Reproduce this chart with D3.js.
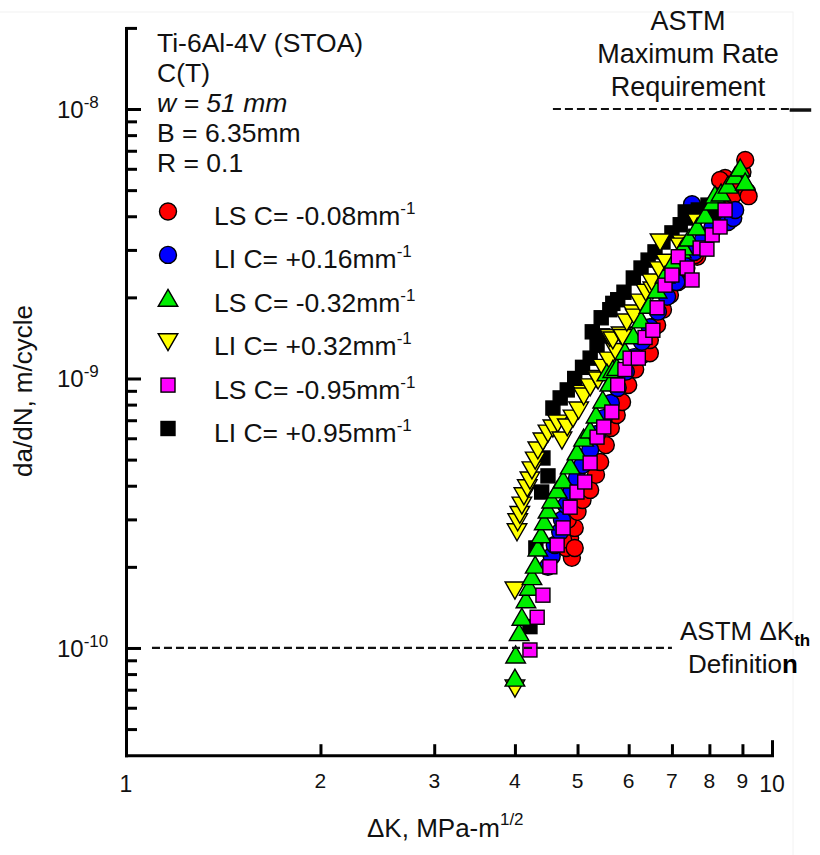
<!DOCTYPE html>
<html><head><meta charset="utf-8">
<script src="https://cdn.jsdelivr.net/npm/d3@7"></script>
<style>
body{margin:0;background:#fff}
svg text{font-family:"Liberation Sans",Arial,sans-serif;fill:#111}
</style>
</head><body>
<svg id="chart" width="820" height="855"></svg>
<script>
// ---------- data (ΔK in MPa·m^1/2, da/dN in m/cycle) ----------
const LS_m008 = [[4.90,2.16e-10],[4.80,2.35e-10],[4.87,2.56e-10],[4.95,2.79e-10],[4.83,2.99e-10],[4.75,2.52e-10],[4.95,2.35e-10],
  [5.00,3.20e-10],[5.09,3.54e-10],[5.23,3.86e-10],[5.34,4.39e-10],[5.42,4.90e-10],[5.53,5.66e-10],[5.63,6.55e-10],[5.75,7.32e-10],
  [5.86,8.18e-10],[5.99,9.46e-10],[6.14,1.08e-9],[6.29,1.22e-9],[6.47,1.24e-9],[6.47,1.39e-9],[6.64,1.58e-9],[6.78,1.80e-9],[6.95,2.04e-9],
  [7.16,2.28e-9],[7.37,2.57e-9],[7.66,2.83e-9],[7.60,2.87e-9],[7.82,3.18e-9],[8.08,3.56e-9],[8.31,3.94e-9],[8.52,4.40e-9],[8.71,4.80e-9],
  [8.93,5.31e-9],[9.15,4.93e-9],[9.00,5.84e-9],[9.09,6.47e-9],[8.46,5.55e-9],[8.31,5.45e-9],[9.20,4.75e-9]];
const LI_p016 = [[4.50,2.00e-10],[4.56,2.19e-10],[4.61,2.41e-10],[4.70,2.70e-10],[4.73,2.99e-10],[4.80,3.39e-10],[4.89,3.79e-10],
  [4.99,4.27e-10],[5.09,4.78e-10],[5.23,5.43e-10],[5.36,6.22e-10],[5.49,7.13e-10],[5.63,8.11e-10],[5.77,9.23e-10],[5.94,1.06e-9],
  [6.12,1.20e-9],[6.29,1.37e-9],[6.47,1.55e-9],[6.66,1.77e-9],[6.88,2.01e-9],[7.11,2.28e-9],[7.34,2.62e-9],[7.58,2.95e-9],
  [7.82,3.27e-9],[8.08,3.62e-9],[8.55,3.81e-9],[8.71,3.94e-9],[8.77,4.22e-9],[7.52,4.43e-9]];
const LS_m032 = [[4.00,7.73e-11],[4.01,9.42e-11],[4.06,1.14e-10],[4.10,1.30e-10],[4.16,1.51e-10],[4.21,1.68e-10],[4.25,1.84e-10],
  [4.30,2.03e-10],[4.34,2.35e-10],[4.39,2.63e-10],[4.44,2.94e-10],[4.50,3.25e-10],[4.56,3.54e-10],[4.65,3.86e-10],[4.75,4.20e-10],
  [4.87,4.74e-10],[4.99,5.34e-10],[5.11,6.01e-10],[5.23,6.44e-10],[5.34,7.32e-10],[5.47,8.32e-10],[5.55,1.05e-9],[5.61,9.62e-10],
  [5.67,1.08e-9],[5.75,1.10e-9],[5.92,1.26e-9],[6.10,1.44e-9],[6.27,1.65e-9],[6.45,1.87e-9],[6.64,2.13e-9],[6.83,2.42e-9],
  [7.03,2.70e-9],[7.24,3.00e-9],[7.29,3.08e-9],[7.44,3.32e-9],[7.66,3.65e-9],[7.88,4.04e-9],[8.10,4.52e-9],[8.16,4.80e-9],
  [8.34,4.88e-9],[8.55,5.22e-9],[8.77,5.65e-9],[8.93,6.04e-9],[9.09,5.36e-9]];
const LI_p032 = [[4.00,7.10e-11],[4.00,1.64e-10],[4.03,2.70e-10],[4.04,2.94e-10],[4.07,3.13e-10],[4.10,3.39e-10],[4.13,3.67e-10],
  [4.18,3.93e-10],[4.22,4.20e-10],[4.25,4.58e-10],[4.30,4.98e-10],[4.34,5.43e-10],[4.42,5.86e-10],[4.50,6.27e-10],[4.58,6.55e-10],
  [4.66,6.83e-10],[4.73,5.91e-10],[4.82,6.61e-10],[4.92,7.13e-10],[5.02,7.64e-10],[5.09,8.82e-10],[5.11,8.61e-10],[5.23,9.31e-10],
  [5.36,1.00e-9],[5.38,9.87e-10],[5.47,1.10e-9],[5.59,1.17e-9],[5.73,1.26e-9],[5.61,1.42e-9],[5.67,1.39e-9],[5.84,1.45e-9],
  [5.88,1.42e-9],[5.96,1.62e-9],[6.10,1.75e-9],[6.14,1.69e-9],[6.25,1.92e-9],[6.38,2.09e-9],[6.54,2.13e-9],[6.52,2.28e-9],
  [6.69,2.53e-9],[6.85,2.70e-9],[6.71,3.21e-9],[7.26,3.18e-9],[7.21,3.10e-9],[7.66,3.81e-9]];
const LS_m095 = [[4.22,9.83e-11],[4.33,1.30e-10],[4.42,1.57e-10],[4.53,2.00e-10],[4.65,2.41e-10],[4.75,2.79e-10],[4.87,3.33e-10],
  [4.99,3.79e-10],[5.13,4.13e-10],[5.23,4.86e-10],[5.36,6.06e-10],[5.49,6.61e-10],[5.65,7.51e-10],[5.77,9.46e-10],[5.92,1.08e-9],
  [6.03,1.19e-9],[6.21,1.19e-9],[6.36,1.42e-9],[6.54,1.51e-9],[6.64,1.83e-9],[6.83,2.22e-9],[7.00,2.42e-9],[7.16,2.83e-9],
  [7.39,2.57e-9],[7.52,2.32e-9],[7.74,3.05e-9],[7.93,3.02e-9],[8.08,3.41e-9],[8.31,3.65e-9],[8.46,4.22e-9]];
const LI_p095 = [[4.22,1.20e-10],[4.31,2.35e-10],[4.40,3.79e-10],[4.50,4.35e-10],[4.42,5.07e-10],[4.58,7.77e-10],[4.70,8.47e-10],
  [4.82,9.07e-10],[4.95,1.00e-9],[5.09,1.10e-9],[5.23,1.19e-9],[5.36,1.33e-9],[5.27,1.49e-9],[5.47,1.44e-9],[5.44,1.68e-9],
  [5.61,1.80e-9],[5.67,1.90e-9],[5.77,1.96e-9],[5.90,2.09e-9],[6.10,2.36e-9],[6.27,2.57e-9],[6.43,2.75e-9],[6.59,2.95e-9],
  [6.78,3.21e-9],[7.00,3.47e-9],[7.21,3.72e-9],[7.34,4.15e-9],[7.47,3.94e-9],[7.69,4.22e-9],[7.96,4.40e-9],[8.25,4.40e-9],[8.08,4.04e-9]];

const legendLabels = ["LS C= -0.08mm", "LI C= +0.16mm", "LS C= -0.32mm", "LI C= +0.32mm", "LS C= -0.95mm", "LI C= +0.95mm"];
const infoLines = ["Ti-6Al-4V (STOA)", "C(T)", "w = 51 mm", "B = 6.35mm", "R = 0.1"];
const xTickLabels = [1,2,3,4,5,6,7,8,9,10];
const xMinorTicks = [2,3,4,5,6,7,8,9];
const yMajorTicks = [1e-10, 1e-9, 1e-8];
const yMajorExp = ["-10", "-9", "-8"];
const yMinorTicks = [5e-11,6e-11,7e-11,8e-11,9e-11,2e-10,3e-10,4e-10,5e-10,6e-10,7e-10,8e-10,9e-10,
                     2e-9,3e-9,4e-9,5e-9,6e-9,7e-9,8e-9,9e-9,2e-8];
// reference lines: rate level and ΔK extent
const refLines = [{rate:1e-8, from:4.58, to:10.75}, {rate:1e-10, from:1.097, to:7.0}];

// ---------- styles ----------
const series = [
  {data:LS_m008, shape:"circle", fill:"#ff0000"},
  {data:LI_p016, shape:"circle", fill:"#0000ff"},
  {data:LS_m032, shape:"up", fill:"#00ee00"},
  {data:LI_p032, shape:"down", fill:"#ffff00"},
  {data:LS_m095, shape:"square", fill:"#ff00ff"},
  {data:LI_p095, shape:"square", fill:"#000000"}
];
const drawOrder = [0,1,5,3,2,4];

const svg = d3.select("#chart");
svg.append("rect").attr("width",820).attr("height",855).attr("fill","#fff");
svg.append("rect").attr("x",-2).attr("y",12).attr("width",795).attr("height",850)
  .attr("fill","none").attr("stroke","#f2f2f2").attr("stroke-width",1);

const x = d3.scaleLog().domain([1,10]).range([126,772]);
const y = d3.scaleLog().domain([4e-11,2e-8]).range([755.2,27.9]);

function drawMarker(g, shape, fill){
  const st = {stroke:"#000","stroke-width":1.4};
  let m;
  if(shape==="circle") m = g.append("circle").attr("r",8.5);
  else if(shape==="square") m = g.append("rect").attr("x",-7).attr("y",-7).attr("width",14).attr("height",14);
  else if(shape==="up") m = g.append("path").attr("d","M0,-9L9.8,8L-9.8,8Z");
  else m = g.append("path").attr("d","M0,9L9.8,-8L-9.8,-8Z");
  m.attr("fill",fill); for(const k in st) m.attr(k,st[k]);
}

// data markers
const plot = svg.append("g");
drawOrder.forEach(i=>{
  const s = series[i];
  s.data.forEach(d=>{
    const g = plot.append("g").attr("transform",`translate(${x(d[0])},${y(d[1])})`);
    drawMarker(g, s.shape, s.fill);
  });
});

// reference dashed lines
refLines.forEach(r=>{
  svg.append("line").attr("x1",x(r.from)).attr("x2",x(r.to))
    .attr("y1",y(r.rate)).attr("y2",y(r.rate))
    .attr("stroke","#111").attr("stroke-width",2.2).attr("stroke-dasharray","8,4");
});
svg.append("line").attr("x1",x(10.65)).attr("x2",x(11.5)).attr("y1",y(1e-8)+1).attr("y2",y(1e-8)+1)
  .attr("stroke","#111").attr("stroke-width",3.5);

// axes
function styleAxis(g){
  g.selectAll("path.domain").attr("stroke","#000").attr("stroke-width",3).attr("stroke-linecap","square");
  g.selectAll(".tick line").attr("stroke","#000").attr("stroke-width",3);
}
const xg = svg.append("g").attr("transform",`translate(0,${y(4e-11)})`)
  .call(d3.axisBottom(x).tickValues(xMinorTicks).tickSize(-11).tickSizeOuter(0).tickFormat(""));
styleAxis(xg);
const xg2 = svg.append("g").attr("transform",`translate(0,${y(4e-11)})`)
  .call(d3.axisBottom(x).tickValues([10]).tickSize(-15).tickSizeOuter(0).tickFormat(""));
xg2.select("path.domain").remove(); styleAxis(xg2);

const yg = svg.append("g").attr("transform",`translate(${x(1)},0)`)
  .call(d3.axisLeft(y).tickValues(yMinorTicks).tickSize(-11).tickSizeOuter(0).tickFormat(""));
styleAxis(yg);
const yg2 = svg.append("g").attr("transform",`translate(${x(1)},0)`)
  .call(d3.axisLeft(y).tickValues(yMajorTicks).tickSize(-15).tickSizeOuter(0).tickFormat(""));
yg2.select("path.domain").remove(); styleAxis(yg2);

// x tick labels
xTickLabels.forEach(v=>{
  const big = (v===1||v===10);
  svg.append("text").attr("x",x(v)).attr("y",y(4e-11)+(big?37:33))
    .attr("text-anchor","middle").attr("font-size",big?23:21).text(v);
});
// y tick labels
yMajorTicks.forEach((v,i)=>{
  const t = svg.append("text").attr("x",57).attr("y",y(v)+9).attr("font-size",24);
  t.append("tspan").text("10");
  t.append("tspan").attr("font-size",17).attr("dy",-10).text(yMajorExp[i]);
});

// axis titles
const xt = svg.append("text").attr("x",367).attr("y",837).attr("font-size",26);
xt.append("tspan").text("\u0394K, MPa-m");
xt.append("tspan").attr("font-size",17).attr("dy",-12).text("1/2");
svg.append("text").attr("transform","translate(32,391) rotate(-90)")
  .attr("text-anchor","middle").attr("font-size",26).text("da/dN, m/cycle");

// info block
infoLines.forEach((s,i)=>{
  svg.append("text").attr("x",157).attr("y",52+30*i).attr("font-size",26.5)
    .attr("font-style", i===2?"italic":"normal").text(s);
});

// legend
legendLabels.forEach((s,i)=>{
  const base = 225 + 43.4*i;
  const g = svg.append("g").attr("transform",`translate(168,${base-13.5})`);
  drawMarker(g, series[i].shape, series[i].fill);
  const t = svg.append("text").attr("x",214).attr("y",base).attr("font-size",26.5);
  t.append("tspan").text(s);
  t.append("tspan").attr("font-size",17).attr("dy",-11).text("-1");
});

// annotations
[["ASTM",30],["Maximum Rate",63],["Requirement",96]].forEach(d=>{
  svg.append("text").attr("x",688).attr("y",d[1]).attr("text-anchor","middle").attr("font-size",27).text(d[0]);
});
const a1 = svg.append("text").attr("x",680).attr("y",640).attr("font-size",26);
a1.append("tspan").text("ASTM \u0394K");
a1.append("tspan").attr("font-size",17).attr("font-weight","bold").attr("fill","#000").attr("dy",6).text("th");
const a2 = svg.append("text").attr("x",688).attr("y",673).attr("font-size",26);
a2.append("tspan").text("Definitio");
a2.append("tspan").attr("font-weight","bold").attr("fill","#000").text("n");
</script>
</body></html>
